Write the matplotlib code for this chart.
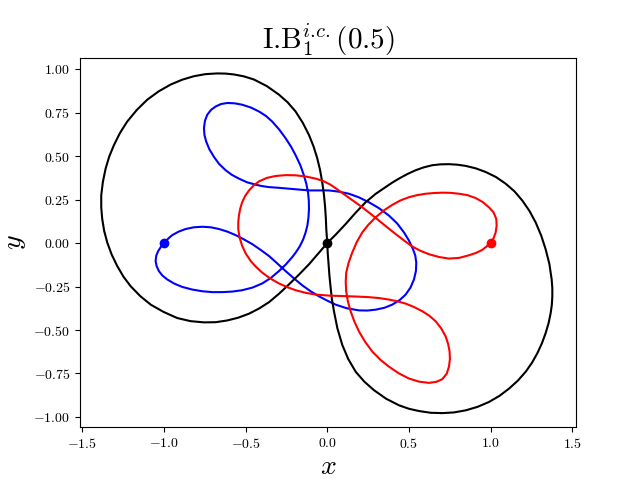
import matplotlib
matplotlib.use("Agg")
import matplotlib.pyplot as plt

plt.rcParams['mathtext.fontset'] = 'cm'
plt.rcParams['font.family'] = 'serif'
plt.rcParams['font.serif'] = ['cmr10', 'DejaVu Serif']
plt.rcParams['axes.formatter.use_mathtext'] = True

black_x = [0.0, 0.056, 0.113, 0.174, 0.235, 0.296, 0.357, 0.398, 0.439, 0.490, 0.541, 0.592,
           0.643, 0.694, 0.745, 0.797, 0.848, 0.909, 0.970, 1.033, 1.092, 1.146, 1.194, 1.238,
           1.276, 1.310, 1.337, 1.360, 1.374, 1.378, 1.378, 1.375, 1.368, 1.355, 1.337, 1.314,
           1.286, 1.253, 1.215, 1.167, 1.113, 1.054, 0.990, 0.920, 0.848, 0.776, 0.704, 0.633,
           0.562, 0.500, 0.439, 0.360, 0.286, 0.227, 0.174, 0.128, 0.092, 0.062, 0.041, 0.028,
           0.020, 0.013, 0.008, 0.003, 0.0, -0.006, -0.009, -0.014, -0.021, -0.031, -0.044,
           -0.061, -0.084, -0.112, -0.150, -0.194, -0.243, -0.296, -0.370, -0.449, -0.510,
           -0.571, -0.622, -0.674, -0.745, -0.816, -0.888, -0.959, -1.032, -1.102, -1.166,
           -1.225, -1.269, -1.306, -1.335, -1.357, -1.374, -1.384, -1.384, -1.378, -1.366,
           -1.347, -1.320, -1.286, -1.248, -1.204, -1.145, -1.081, -1.002, -0.919, -0.837,
           -0.755, -0.683, -0.612, -0.545, -0.479, -0.417, -0.357, -0.295, -0.235, -0.173,
           -0.112, -0.055, 0.0]
black_y = [0.0, 0.053, 0.110, 0.175, 0.235, 0.283, 0.322, 0.348, 0.371, 0.397, 0.419, 0.436,
           0.448, 0.453, 0.454, 0.451, 0.444, 0.430, 0.409, 0.380, 0.342, 0.298, 0.245, 0.185,
           0.119, 0.043, -0.035, -0.120, -0.209, -0.258, -0.306, -0.355, -0.402, -0.461, -0.518, -0.577,
           -0.634, -0.689, -0.740, -0.791, -0.837, -0.879, -0.914, -0.942, -0.962, -0.974, -0.978, -0.976,
           -0.966, -0.953, -0.933, -0.895, -0.846, -0.797, -0.740, -0.666, -0.586, -0.490, -0.392, -0.320,
           -0.250, -0.185, -0.120, -0.060, 0.0, 0.081, 0.148, 0.216, 0.284, 0.351, 0.420,
           0.487, 0.556, 0.622, 0.692, 0.757, 0.810, 0.854, 0.903, 0.941, 0.959,
           0.970, 0.975, 0.976, 0.972, 0.960, 0.940, 0.912, 0.873, 0.825, 0.766,
           0.699, 0.634, 0.564, 0.498, 0.429, 0.352, 0.274, 0.206, 0.139, 0.070,
           0.003, -0.066, -0.132, -0.193, -0.248, -0.305, -0.354, -0.396, -0.431, -0.449,
           -0.456, -0.455, -0.445, -0.429, -0.406, -0.376, -0.340, -0.291, -0.238, -0.181,
           -0.122, -0.060, 0.0]

blue_x = [-0.996, -0.975, -0.949, -0.910, -0.867, -0.816, -0.765, -0.714, -0.663, -0.612, -0.561,
          -0.510, -0.459, -0.408, -0.357, -0.306, -0.255, -0.204, -0.153, -0.102, -0.051, 0.000,
          0.051, 0.120, 0.194, 0.245, 0.296, 0.350, 0.398, 0.443, 0.480, 0.510, 0.531, 0.543,
          0.545, 0.539, 0.525, 0.500, 0.470, 0.428, 0.378, 0.318, 0.255, 0.194, 0.133, 0.070,
          0.010, -0.050, -0.112, -0.174, -0.235, -0.296, -0.357, -0.400, -0.438, -0.492, -0.541,
          -0.585, -0.622, -0.662, -0.694, -0.722, -0.741, -0.752, -0.755, -0.749, -0.735, -0.712,
          -0.683, -0.650, -0.612, -0.567, -0.521, -0.468, -0.418, -0.375, -0.337, -0.294, -0.255,
          -0.222, -0.194, -0.165, -0.143, -0.128, -0.118, -0.113, -0.112, -0.115, -0.122, -0.133,
          -0.148, -0.168, -0.190, -0.214, -0.253, -0.296, -0.345, -0.398, -0.458, -0.521,
          -0.582, -0.643, -0.704, -0.765, -0.828, -0.888, -0.937, -0.980, -1.009, -1.031, -1.045,
          -1.051, -1.047, -1.035, -1.018, -0.996]
blue_y = [0.0, 0.025, 0.046, 0.066, 0.081, 0.091, 0.094, 0.091, 0.081, 0.066, 0.046,
          0.021, -0.006, -0.039, -0.074, -0.117, -0.161, -0.203, -0.243, -0.277, -0.306, -0.331,
          -0.354, -0.375, -0.387, -0.388, -0.383, -0.372, -0.354, -0.328, -0.296, -0.255, -0.209, -0.160,
          -0.112, -0.072, -0.035, 0.015, 0.061, 0.113, 0.158, 0.200, 0.235, 0.263, 0.284, 0.296,
          0.303, 0.303, 0.303, 0.308, 0.313, 0.318, 0.322, 0.328, 0.336, 0.350, 0.371,
          0.393, 0.419, 0.455, 0.496, 0.540, 0.583, 0.622, 0.661, 0.703, 0.738, 0.766,
          0.786, 0.800, 0.806, 0.804, 0.796, 0.780, 0.757, 0.731, 0.699, 0.653, 0.603,
          0.555, 0.506, 0.448, 0.390, 0.340, 0.293, 0.245, 0.197, 0.148, 0.100, 0.060,
          0.020, -0.018, -0.050, -0.080, -0.122, -0.161, -0.200, -0.232, -0.256, -0.271,
          -0.279, -0.282, -0.282, -0.277, -0.267, -0.252, -0.233, -0.209, -0.187, -0.161, -0.132,
          -0.103, -0.072, -0.045, -0.021, 0.0]

red_x = [0.996, 1.018, 1.031, 1.037, 1.035, 1.018, 0.990, 0.952, 0.909, 0.858, 0.806, 0.755,
         0.704, 0.653, 0.603, 0.551, 0.500, 0.447, 0.398, 0.345, 0.296, 0.252, 0.214, 0.180,
         0.153, 0.131, 0.116, 0.113, 0.116, 0.126, 0.143, 0.166, 0.194, 0.232, 0.276, 0.325,
         0.378, 0.438, 0.500, 0.562, 0.623, 0.668, 0.704, 0.731, 0.745, 0.751, 0.749, 0.740,
         0.725, 0.698, 0.664, 0.625, 0.582, 0.532, 0.480, 0.430, 0.378, 0.316, 0.255, 0.194,
         0.133, 0.071, 0.010, -0.071, -0.133, -0.194, -0.246, -0.296, -0.350, -0.398, -0.436,
         -0.469, -0.499, -0.521, -0.537, -0.545, -0.545, -0.541, -0.533, -0.521, -0.503, -0.479,
         -0.451, -0.418, -0.370, -0.316, -0.255, -0.194, -0.132, -0.071, -0.025, 0.020, 0.066,
         0.113, 0.164, 0.214, 0.266, 0.317, 0.368, 0.419, 0.470, 0.521, 0.572, 0.623, 0.684,
         0.745, 0.808, 0.868, 0.912, 0.949, 0.975, 0.996]
red_y = [0.0, 0.027, 0.061, 0.100, 0.139, 0.177, 0.206, 0.236, 0.259, 0.276, 0.284, 0.289,
         0.290, 0.288, 0.284, 0.276, 0.264, 0.245, 0.220, 0.187, 0.148, 0.106, 0.061, 0.005,
         -0.054, -0.112, -0.170, -0.224, -0.277, -0.335, -0.392, -0.451, -0.508, -0.568, -0.624, -0.671,
         -0.711, -0.749, -0.779, -0.797, -0.804, -0.798, -0.783, -0.752, -0.711, -0.668, -0.624, -0.580,
         -0.537, -0.491, -0.450, -0.418, -0.392, -0.368, -0.348, -0.335, -0.325, -0.316, -0.311, -0.308,
         -0.306, -0.304, -0.302, -0.296, -0.286, -0.271, -0.253, -0.232, -0.203, -0.170, -0.137,
         -0.103, -0.060, -0.016, 0.032, 0.081, 0.120, 0.158, 0.198, 0.235, 0.271, 0.303,
         0.331, 0.355, 0.375, 0.386, 0.391, 0.390, 0.383, 0.371, 0.357, 0.336, 0.306,
         0.274, 0.240, 0.206, 0.168, 0.129, 0.090, 0.052, 0.015, -0.020, -0.045, -0.064, -0.080,
         -0.089, -0.085, -0.070, -0.056, -0.039, -0.020, 0.0]

start_x = [-1.0, 0.0, 1.0]
start_y = [0.0, 0.0, 0.0]
colors = ['blue', 'black', 'red']

fig, ax = plt.subplots(figsize=(6.4, 4.8), dpi=100)
ax.plot(blue_x, blue_y, color='blue')
ax.plot(black_x, black_y, color='black')
ax.plot(red_x, red_y, color='red')
for sx, sy, c in zip(start_x, start_y, colors):
    ax.plot(sx, sy, 'o', color=c)

ax.set_xlim(-1.514, 1.523)
ax.set_ylim(-1.059, 1.067)
ax.set_xticks([-1.5, -1.0, -0.5, 0.0, 0.5, 1.0, 1.5])
ax.set_yticks([-1.0, -0.75, -0.5, -0.25, 0.0, 0.25, 0.5, 0.75, 1.0])
ax.set_title(r'I.B$_1^{i.\!c.}$(0.5)', fontsize=21)
ax.set_xlabel(r'$x$', fontsize=20, labelpad=2)
ax.set_ylabel(r'$y$', fontsize=20)
fig.savefig('out.png', dpi=100)
